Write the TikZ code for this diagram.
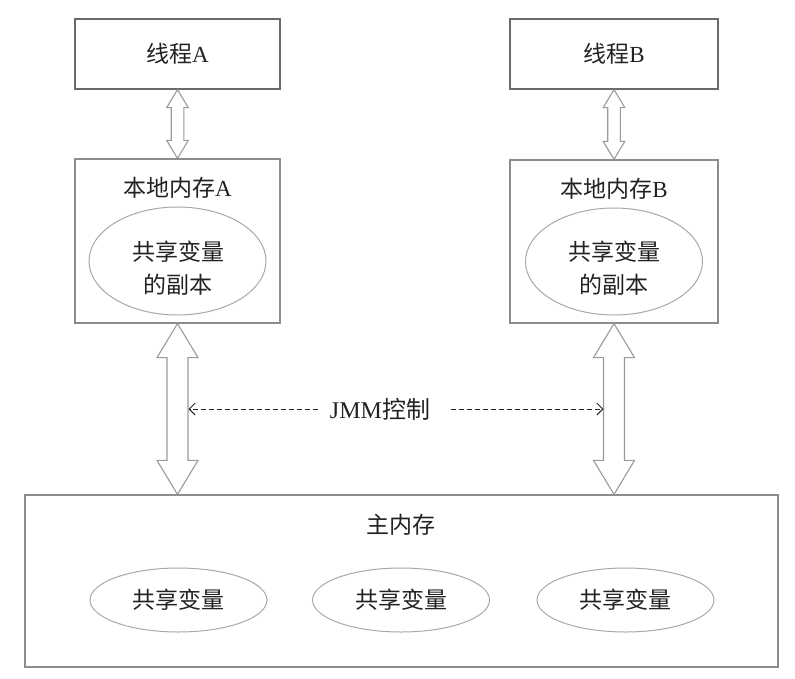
\documentclass[tikz,border=0pt]{standalone}
\usepackage{fontspec}
\setmainfont{Liberation Serif}
\newfontfamily\cjk{Noto Sans CJK SC}
\usetikzlibrary{calc,arrows.meta,shapes.geometric}
\definecolor{boxdark}{HTML}{6A6A6A}
\definecolor{boxgray}{HTML}{8C8C8C}
\definecolor{ellgray}{HTML}{A8A8A8}
\definecolor{arrgray}{HTML}{9A9A9A}
\definecolor{txt}{HTML}{222222}
\tikzset{
  threadbox/.style={draw=boxdark, line width=1.2pt, minimum width=205pt, minimum height=70pt, inner sep=0pt, text=txt, font=\fontsize{23}{23}\selectfont},
  localbox/.style={draw=boxgray, line width=1.2pt, minimum width=205pt, minimum height=164pt, inner sep=0pt},
  lbl/.style={text=txt, font=\fontsize{23}{23}\selectfont, inner sep=0pt},
  ellnode/.style={draw=ellgray, line width=1pt, ellipse, minimum width=177pt, inner sep=0pt, text=txt, align=center, font=\fontsize{23}{33}\selectfont},
  elltext/.style={text=txt, align=center, inner sep=0pt, font=\fontsize{23}{33}\selectfont},
  arrowline/.style={draw=arrgray, line width=1.1pt, line join=miter},
  jmmline/.style={draw=txt, line width=0.9pt, dash pattern=on 5pt off 3pt, arrows={-Straight Barb[length=6pt,width=12pt]}},
}
\newcommand\dblarrow[5]{%
  \draw[arrowline] let \p1=(#1), \p2=(#2) in
    (\x1,\y1) -- (\x1+#4pt,\y1-#5pt) -- (\x1+#3pt,\y1-#5pt) -- (\x1+#3pt,\y2+#5pt)
    -- (\x1+#4pt,\y2+#5pt) -- (\x1,\y2) -- (\x1-#4pt,\y2+#5pt) -- (\x1-#3pt,\y2+#5pt)
    -- (\x1-#3pt,\y1-#5pt) -- (\x1-#4pt,\y1-#5pt) -- cycle;}
\begin{document}
\begin{tikzpicture}[x=1pt,y=-1pt]
\useasboundingbox (0,0) rectangle (795,678);
% threads
\node[threadbox] (ta) at (177.5,54) {{\cjk 线程}A};
\node[threadbox, minimum width=208pt] (tb) at (614,54) {{\cjk 线程}B};
% local memories
\node[localbox] (la) at (177.5,241) {};
\node[localbox, minimum width=208pt, minimum height=163pt] (lb) at (614,241.5) {};
\node[lbl] (lat) at (177.5,188) {{\cjk 本地内存}A};
\node[lbl] (lbt) at (614,189) {{\cjk 本地内存}B};
\node[ellnode, minimum height=108pt] (ea) at (177.5,261) {};
\node[ellnode, minimum height=107pt] (eb) at (614,261.5) {};
\node[elltext] (eat) at (178,268) {\cjk 共享变量\\\cjk 的副本};
\node[elltext] (ebt) at (614,268) {\cjk 共享变量\\\cjk 的副本};
% main memory
\node[draw=boxgray, line width=1.2pt, minimum width=753pt, minimum height=172pt, inner sep=0pt] (mm) at (401.5,581) {};
\node[lbl] (mmt) at (401,525) {\cjk 主内存};
\node[ellnode, minimum height=64pt] (v1) at (178.5,600) {\cjk 共享变量};
\node[ellnode, minimum height=64pt] (v2) at (401,600) {\cjk 共享变量};
\node[ellnode, minimum height=64pt] (v3) at (625.5,600) {\cjk 共享变量};
% arrows thread <-> local
\dblarrow{ta.south}{la.north}{6.3}{10.8}{18}
\dblarrow{tb.south}{lb.north}{6.3}{10.8}{18}
% arrows local <-> main
\coordinate (ma) at (la.south |- mm.north);
\coordinate (mb) at (lb.south |- mm.north);
\dblarrow{la.south}{ma}{10.5}{20.5}{34}
\dblarrow{lb.south}{mb}{10.5}{20.5}{34}
% JMM control
\node[lbl, font=\fontsize{24}{24}\selectfont] (jmm) at (380,409) {JMM{\cjk 控制}};
\coordinate (jl) at (188.5,409);
\coordinate (jr) at (603.5,409);
\draw[jmmline, shorten <=12pt] (jmm.west) -- (jl);
\draw[jmmline, shorten <=21pt] (jmm.east) -- (jr);
\end{tikzpicture}
\end{document}
